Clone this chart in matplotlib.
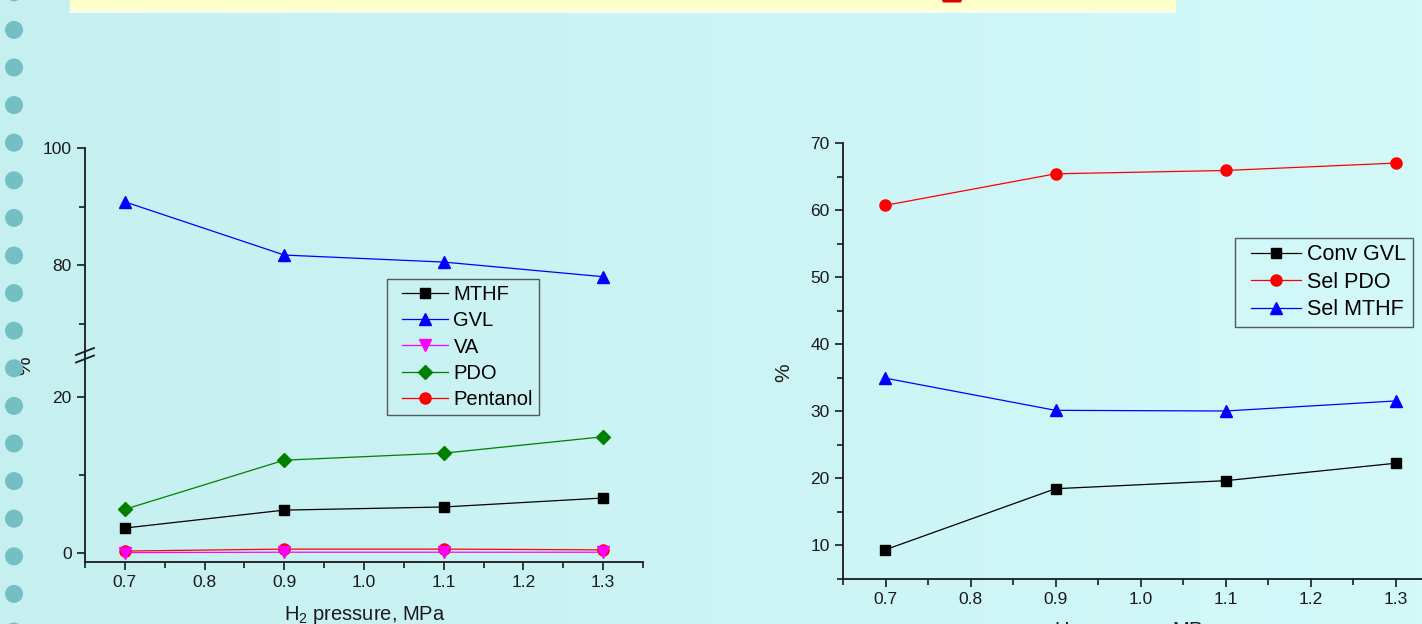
import matplotlib
matplotlib.use('Agg')
import matplotlib.pyplot as plt
import numpy as np
from matplotlib.patches import Circle, Rectangle, Polygon
from matplotlib.ticker import MultipleLocator, FormatStrFormatter
from matplotlib.colors import LinearSegmentedColormap
from matplotlib.legend_handler import HandlerLine2D
from matplotlib.lines import Line2D

plt.rcParams['font.family'] = ['Liberation Sans', 'DejaVu Sans']
plt.rcParams['mathtext.fontset'] = 'custom'
plt.rcParams['mathtext.rm'] = 'Liberation Sans'

# ---------------- data ----------------
pressure = [0.7, 0.9, 1.1, 1.3]

# left chart (yields, %)
mthf = [3.2, 5.5, 5.9, 7.05]
gvl = [90.8, 81.7, 80.5, 78.0]
va = [0.05, 0.1, 0.1, 0.1]
pdo = [5.6, 11.9, 12.8, 14.9]
pentanol = [0.25, 0.5, 0.5, 0.4]

# right chart (%)
conv_gvl = [9.3, 18.4, 19.6, 22.2]
sel_pdo = [60.7, 65.4, 65.9, 67.0]
sel_mthf = [34.9, 30.1, 30.0, 31.5]

left_labels = ['MTHF', 'GVL', 'VA', 'PDO', 'Pentanol']
right_labels = ['Conv GVL', 'Sel PDO', 'Sel MTHF']
xlabel = 'H$_\\mathrm{2}$ pressure, MPa'

W, H = 1422, 624
fig = plt.figure(figsize=(W / 100, H / 100), dpi=100)


def rect(x0, y0, x1, y1):
    return [x0 / W, 1 - y1 / H, (x1 - x0) / W, (y1 - y0) / H]


# ---------------- slide background ----------------
bg = fig.add_axes([0, 0, 1, 1], zorder=-10)
bg.set_xlim(0, W)
bg.set_ylim(H, 0)
bg.axis('off')
cmap = LinearSegmentedColormap.from_list('bg', ['#c6eff0', '#d3f9f9'])
bg.imshow(np.linspace(0, 1, 256)[None, :], extent=[0, W, H, 0], aspect='auto', cmap=cmap)
bg.add_patch(Rectangle((70, 0), 1106, 11, fc='#ffffcc', ec='none'))
bg.plot([70, 1176], [11.5, 11.5], color='white', lw=1.2)
bg.add_patch(Polygon([(942, 0), (962, 0), (961, 2.5), (943, 2.5)], closed=True, fc='#dd0000',
                     ec='none', antialiased=True))


def style(ax, xticks=True):
    ax.set_facecolor('none')
    for s in ['top', 'right']:
        ax.spines[s].set_visible(False)
    for s in ['left', 'bottom']:
        ax.spines[s].set_linewidth(1.3)
        ax.spines[s].set_color('#1a1a1a')
    ax.tick_params(which='both', direction='out', width=1.2, colors='#1a1a1a', labelsize=12.5,
                   top=False, right=False)
    ax.tick_params(which='major', length=6)
    ax.tick_params(which='minor', length=4)
    ax.xaxis.set_major_locator(MultipleLocator(0.1))
    ax.xaxis.set_minor_locator(MultipleLocator(0.05))
    ax.xaxis.set_major_formatter(FormatStrFormatter('%.1f'))
    ax.set_xlim(0.65, 1.35)
    if not xticks:
        ax.spines['bottom'].set_visible(False)
        ax.tick_params(which='both', bottom=False, labelbottom=False)


# ---------------- left chart (broken axis) ----------------
axU = fig.add_axes(rect(85, 148, 643, 355))
axL = fig.add_axes(rect(85, 355, 643, 562))
style(axU, xticks=False)
style(axL)
axU.set_ylim(100 - (355 - 148) / 5.85, 100)
axU.yaxis.set_major_locator(MultipleLocator(20))
axU.yaxis.set_minor_locator(MultipleLocator(10))
axL.set_ylim(-(562 - 553) / 7.8, (553 - 355) / 7.8)
axL.yaxis.set_major_locator(MultipleLocator(20))
axL.yaxis.set_minor_locator(MultipleLocator(10))

series_left = [
    (mthf, 'black', 's', 7),
    (gvl, '#0000ff', '^', 9),
    (va, '#ff00ff', 'v', 9),
    (pdo, '#008000', 'D', 7),
    (pentanol, '#ff0000', 'o', 8),
]
handles = []
for (vals, c, m, ms), lab in zip(series_left, left_labels):
    zo = 4 if lab == 'VA' else 3
    for ax in (axU, axL):
        h, = ax.plot(pressure, vals, color=c, marker=m, ms=ms, lw=0.9, label=lab, zorder=zo)
    handles.append(h)

fs1 = 14.5
leg1 = fig.legend(handles, left_labels, loc='upper left', bbox_to_anchor=(387 / W, 1 - 279 / H),
                  fontsize=fs1, frameon=True, fancybox=False, edgecolor='#333333',
                  facecolor='none', labelspacing=0.36, handlelength=2.75, handletextpad=0.25,
                  borderpad=0.3, borderaxespad=0,
                  handler_map={Line2D: HandlerLine2D(xpad=0.42)})
leg1.get_frame().set_linewidth(1.0)

# ---------------- right chart ----------------
axR = fig.add_axes(rect(843, 143, 1438, 579))
style(axR)
axR.set_ylim(10 - (579 - 545) / 6.7, 70)
axR.yaxis.set_major_locator(MultipleLocator(10))
axR.yaxis.set_minor_locator(MultipleLocator(5))

series_right = [
    (conv_gvl, 'black', 's', 7),
    (sel_pdo, '#ff0000', 'o', 8),
    (sel_mthf, '#0000ff', '^', 9),
]
handles_r = []
for (vals, c, m, ms), lab in zip(series_right, right_labels):
    h, = axR.plot(pressure, vals, color=c, marker=m, ms=ms, lw=0.9, label=lab, zorder=3)
    handles_r.append(h)

leg2 = fig.legend(handles_r, right_labels, loc='upper left', bbox_to_anchor=(1235 / W, 1 - 238 / H),
                  fontsize=15.5, frameon=True, fancybox=False, edgecolor='#333333',
                  facecolor='none', labelspacing=0.3, handlelength=2.75, handletextpad=0.3,
                  borderpad=0.3, borderaxespad=0,
                  handler_map={Line2D: HandlerLine2D(xpad=0.42)})
leg2.get_frame().set_linewidth(1.0)

# ---------------- labels ----------------
fig.text(365 / W, 1 - 604 / H, xlabel, ha='center', va='top', fontsize=14.5, color='#1a1a1a')
fig.text(1135 / W, 1 - 620 / H, xlabel, ha='center', va='top', fontsize=14.5, color='#1a1a1a')
fig.text(25 / W, 1 - 366 / H, '%', rotation=90, ha='center', va='center', fontsize=15, color='#1a1a1a')
fig.text(784 / W, 1 - 373 / H, '%', rotation=90, ha='center', va='center', fontsize=15, color='#1a1a1a')

# ---------------- overlay: bullet dots & axis break ----------------
ov = fig.add_axes([0, 0, 1, 1], zorder=10)
ov.set_xlim(0, W)
ov.set_ylim(H, 0)
ov.axis('off')
ov.patch.set_visible(False)
for k in range(-4, 14):
    yc = 142.7 + 37.6 * k
    ov.add_patch(Circle((14, yc), 9, fc='#74bfc4', ec='none'))
ov.plot([76, 94], [355, 348], color='#1a1a1a', lw=1.3)
ov.plot([76, 94], [362.5, 355.5], color='#1a1a1a', lw=1.3)

fig.savefig('out.png', dpi=100)
